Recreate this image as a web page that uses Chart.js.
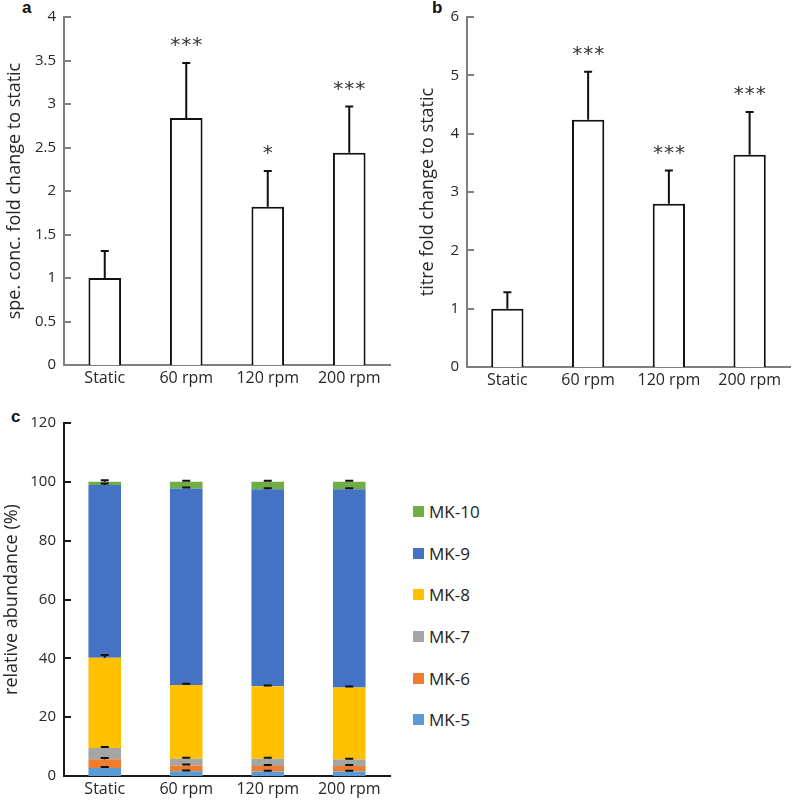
<!DOCTYPE html>
<html>
<head>
<meta charset="utf-8">
<script src="https://cdn.jsdelivr.net/npm/chart.js@4.4.0/dist/chart.umd.min.js"></script>
<style>
  body { margin: 0; background: #fff; font-family: "Open Sans", sans-serif; }
  .panel { position: absolute; }
  .tag { position: absolute; font: bold 17px "Liberation Sans", sans-serif; color: #111; line-height: 20px; }
  #legendC { position: absolute; left: 413px; top: 491px; font: 17px "Open Sans", sans-serif; color: #222; }
  #legendC div { height: 41.6px; display: flex; align-items: center; }
  #legendC span.box { display: inline-block; width: 11px; height: 11px; margin-right: 5px; }
</style>
</head>
<body>
<div class="tag" style="left:22px;top:-2px">a</div>
<div class="tag" style="left:432px;top:-2px">b</div>
<div class="tag" style="left:11px;top:407px">c</div>
<canvas id="chartA" class="panel" width="400" height="400" style="left:0;top:0"></canvas>
<canvas id="chartB" class="panel" width="397" height="400" style="left:400px;top:0"></canvas>
<canvas id="chartC" class="panel" width="400" height="400" style="left:0;top:400px"></canvas>
<div id="legendC"></div>
<script>
var categories = ['Static', '60 rpm', '120 rpm', '200 rpm'];

// panel a: specific concentration, fold change to static
var concA = [1.0, 2.84, 1.82, 2.44];
var concErrA = [0.31, 0.63, 0.41, 0.53];
var starsA = ['', '***', '*', '***'];

// panel b: titre, fold change to static
var titreB = [1.0, 4.24, 2.8, 3.64];
var titreErrB = [0.28, 0.82, 0.57, 0.73];
var starsB = ['', '***', '***', '***'];

// panel c: relative abundance of menaquinones (%)
var mk5 = [2.7, 1.6, 1.5, 1.5];
var mk6 = [3.0, 2.0, 1.9, 1.9];
var mk7 = [3.8, 2.3, 2.5, 2.2];
var mk8 = [30.7, 25.0, 24.6, 24.5];
var mk9 = [58.7, 66.8, 67.0, 67.4];
var mk10 = [1.1, 2.3, 2.5, 2.5];
var mk5Err = [0.4, 0.3, 0.3, 0.3];
var mk6Err = [0.4, 0.3, 0.3, 0.3];
var mk7Err = [0.4, 0.3, 0.3, 0.3];
var mk8Err = [0.9, 0.5, 0.3, 0.3];
var mk9Err = [0.5, 0.4, 0.3, 0.3];
var mk10Err = [0.5, 0.4, 0.4, 0.4];

var textColor = '#262626';
var font = 'Open Sans';

// draws upward error bars (T shape) and significance stars on top of bars
var errorBars = {
  id: 'errorBars',
  afterDatasetsDraw: function(chart, args, opts) {
    var ctx = chart.ctx;
    var y = chart.scales.y;
    ctx.save();
    chart.data.datasets.forEach(function(ds, d) {
      if (!ds.errors) return;
      var meta = chart.getDatasetMeta(d);
      meta.data.forEach(function(bar, i) {
        var base = 0;
        if (opts.stacked) {
          for (var k = 0; k <= d; k++) base += chart.data.datasets[k].data[i];
        } else {
          base = ds.data[i];
        }
        var top = y.getPixelForValue(base + ds.errors[i]);
        ctx.strokeStyle = opts.color;
        ctx.lineWidth = opts.width;
        ctx.beginPath();
        ctx.moveTo(bar.x, bar.y);
        ctx.lineTo(bar.x, top);
        ctx.moveTo(bar.x - opts.cap, top);
        ctx.lineTo(bar.x + opts.cap, top);
        ctx.stroke();
        if (ds.stars && ds.stars[i]) {
          ctx.fillStyle = '#333';
          ctx.font = '20px "DejaVu Sans"';
          ctx.textAlign = 'center';
          ctx.textBaseline = 'middle';
          var n = ds.stars[i].length;
          for (var s = 0; s < n; s++) {
            ctx.fillText('*', bar.x + (s - (n - 1) / 2) * 11, top - 17);
          }
        }
      });
    });
    ctx.restore();
  }
};

// short tick marks pointing into the plot area
var innerTicks = {
  id: 'innerTicks',
  afterDraw: function(chart, args, opts) {
    var ctx = chart.ctx;
    var y = chart.scales.y;
    ctx.save();
    ctx.strokeStyle = opts.color;
    ctx.lineWidth = 2;
    ctx.beginPath();
    y.ticks.forEach(function(t, i) {
      var py = Math.round(y.getPixelForTick(i));
      ctx.moveTo(chart.chartArea.left, py);
      ctx.lineTo(chart.chartArea.left + 7, py);
    });
    ctx.stroke();
    ctx.restore();
  }
};

function foldOptions(max, step, title, titlePad, yWidth, xHeight, pad, axisColor) {
  return {
    responsive: false,
    animation: false,
    layout: { padding: pad },
    plugins: {
      legend: { display: false },
      tooltip: { enabled: false },
      errorBars: { color: '#111', width: 2, cap: 4 },
      innerTicks: { color: axisColor }
    },
    scales: {
      x: {
        grid: { display: false, drawTicks: false },
        border: { color: axisColor, width: 2 },
        ticks: { color: textColor, padding: 4, font: { family: font, size: 16 } },
        afterFit: function(s) { s.height = xHeight; }
      },
      y: {
        min: 0, max: max,
        grid: { display: false, drawTicks: false },
        border: { color: axisColor, width: 2 },
        ticks: {
          stepSize: step, color: textColor, padding: 8, font: { family: font, size: 15 },
          callback: function(v) { return String(Math.round(v * 100) / 100); }
        },
        title: { display: true, text: title, color: textColor, padding: { top: titlePad, bottom: 0 },
                 font: { family: font, size: 18 } },
        afterFit: function(s) { s.width = yWidth; }
      }
    }
  };
}

new Chart(document.getElementById('chartA'), {
  type: 'bar',
  data: {
    labels: categories,
    datasets: [{
      data: concA, errors: concErrA, stars: starsA,
      backgroundColor: '#fff', borderColor: '#111', borderWidth: 2,
      barPercentage: 0.4, categoryPercentage: 1
    }]
  },
  options: foldOptions(4, 0.5, 'spe. conc. fold change to static', 4, 64, 35,
    { left: 0, right: 10, top: 12, bottom: 0 }, '#7f7f7f'),
  plugins: [errorBars, innerTicks]
});

new Chart(document.getElementById('chartB'), {
  type: 'bar',
  data: {
    labels: categories,
    datasets: [{
      data: titreB, errors: titreErrB, stars: starsB,
      backgroundColor: '#fff', borderColor: '#111', borderWidth: 2,
      barPercentage: 0.4, categoryPercentage: 1
    }]
  },
  options: foldOptions(6, 1, 'titre fold change to static', 17, 67, 33,
    { left: 0, right: 7, top: 15, bottom: 0 }, '#7f7f7f'),
  plugins: [errorBars, innerTicks]
});

var mkNames = ['MK-5', 'MK-6', 'MK-7', 'MK-8', 'MK-9', 'MK-10'];
var mkValues = [mk5, mk6, mk7, mk8, mk9, mk10];
var mkErrors = [mk5Err, mk6Err, mk7Err, mk8Err, mk9Err, mk10Err];
var mkColors = ['#5b9bd5', '#ed7d31', '#a5a5a5', '#ffc000', '#4472c4', '#70ad47'];

var optsC = foldOptions(120, 20, 'relative abundance (%)', 1, 64, 24,
  { left: 0, right: 10, top: 23, bottom: 0 }, '#1a1a1a');
optsC.scales.x.stacked = true;
optsC.scales.y.stacked = true;
optsC.plugins.errorBars = { color: '#111', width: 2, cap: 4, stacked: true };

var chartC = new Chart(document.getElementById('chartC'), {
  type: 'bar',
  data: {
    labels: categories,
    datasets: mkNames.map(function(name, i) {
      return {
        label: name, data: mkValues[i], errors: mkErrors[i],
        backgroundColor: mkColors[i], borderWidth: 0,
        barPercentage: 0.4, categoryPercentage: 1
      };
    })
  },
  options: optsC,
  plugins: [errorBars, innerTicks]
});

// legend for panel c, top item is the last series
var legend = document.getElementById('legendC');
chartC.data.datasets.slice().reverse().forEach(function(ds) {
  var row = document.createElement('div');
  var box = document.createElement('span');
  box.className = 'box';
  box.style.background = ds.backgroundColor;
  row.appendChild(box);
  row.appendChild(document.createTextNode(ds.label));
  legend.appendChild(row);
});
</script>
</body>
</html>
